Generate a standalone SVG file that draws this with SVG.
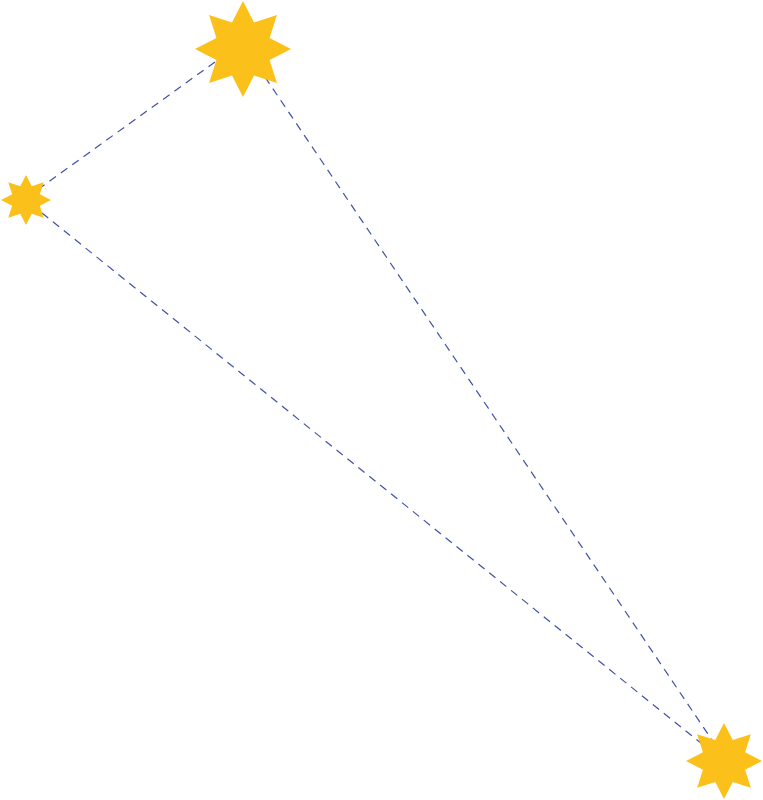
<svg xmlns="http://www.w3.org/2000/svg" xmlns:xlink="http://www.w3.org/1999/xlink" width="763" height="800" viewBox="0 0 763 800">
<style>.c{stroke:#3f51a8;stroke-width:1.2;stroke-dasharray:8,6;fill:none}.s{fill:#fbc11a}</style>
<defs><path id="star" d="M0,-1L.2296,-.5543L.7071,-.7071L.5543,-.2296L1,0L.5543,.2296L.7071,.7071L.2296,.5543L0,1L-.2296,.5543L-.7071,.7071L-.5543,.2296L-1,0L-.5543,-.2296L-.7071,-.7071L-.2296,-.5543Z"/></defs>
<rect width="763" height="800" fill="#fff"/>
<g id="connectors">
<line class="c" x1="215" y1="62" x2="40" y2="188"/>
<line class="c" x1="265" y1="77" x2="712" y2="740"/>
<line class="c" x1="42" y1="213" x2="707" y2="748"/>
</g>
<g id="starA"><use xlink:href="#star" class="s" transform="translate(243,49) scale(48)"/></g>
<g id="starB"><use xlink:href="#star" class="s" transform="translate(26,200) scale(25)"/></g>
<g id="starC"><use xlink:href="#star" class="s" transform="translate(724,761) scale(38)"/></g>
</svg>
